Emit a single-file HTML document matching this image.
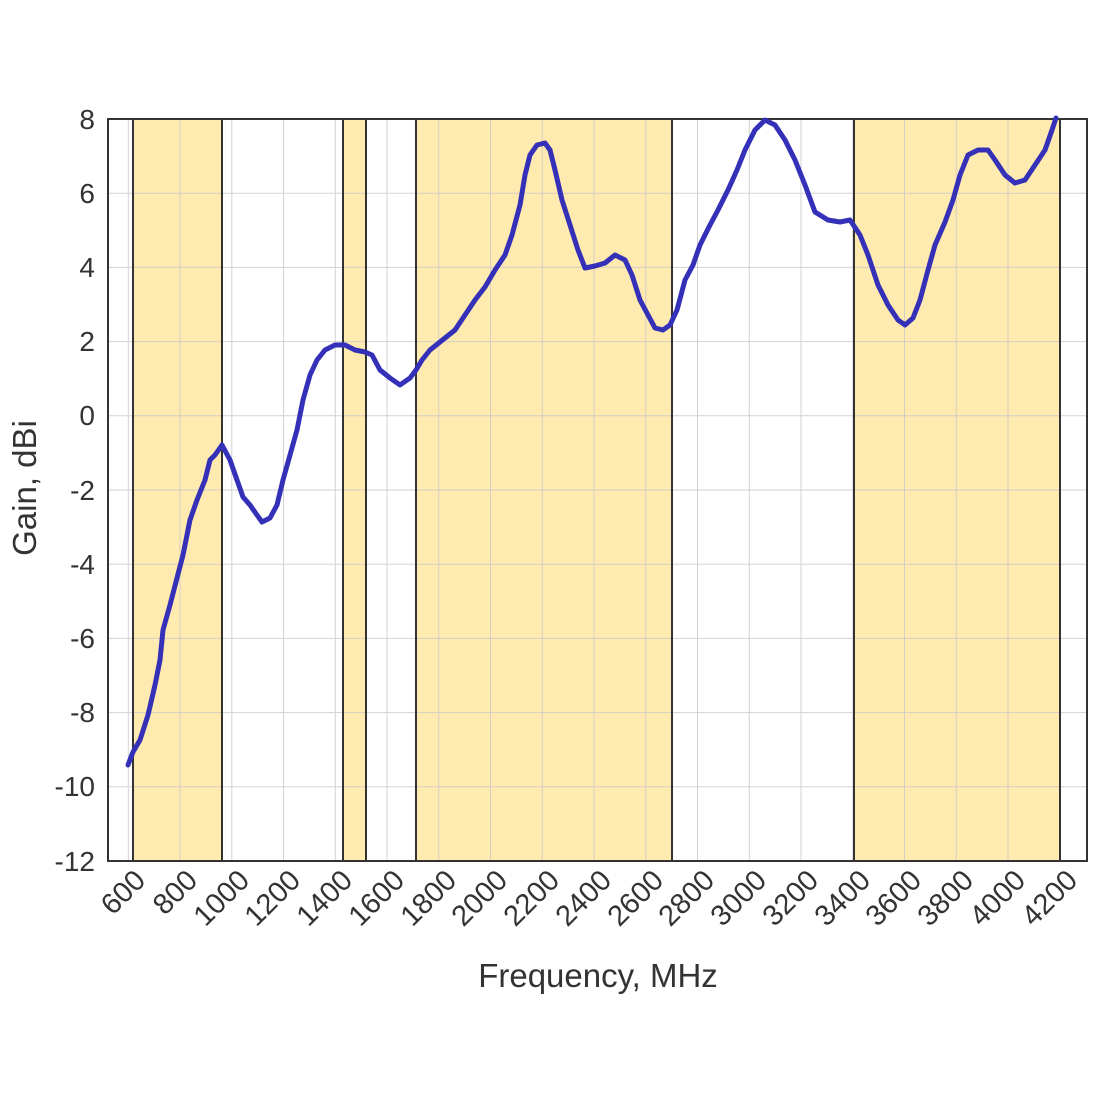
<!DOCTYPE html><html><head><style>body{margin:0;background:#fff}</style></head><body>
<svg width="1100" height="1100" xmlns="http://www.w3.org/2000/svg" font-family="Liberation Sans, Arial, sans-serif">
<rect width="1100" height="1100" fill="#fff"/>
<g fill="#ffeab0">
<rect x="133" y="119" width="89" height="742"/>
<rect x="343" y="119" width="23" height="742"/>
<rect x="416" y="119" width="256" height="742"/>
<rect x="854" y="119" width="206" height="742"/>
</g>
<g stroke="#c8c8c8" stroke-width="1" opacity="0.8">
<line x1="128.3" y1="119" x2="128.3" y2="861"/><line x1="180" y1="119" x2="180" y2="861"/><line x1="231.8" y1="119" x2="231.8" y2="861"/><line x1="283.5" y1="119" x2="283.5" y2="861"/><line x1="335.3" y1="119" x2="335.3" y2="861"/><line x1="387" y1="119" x2="387" y2="861"/><line x1="438.8" y1="119" x2="438.8" y2="861"/><line x1="490.5" y1="119" x2="490.5" y2="861"/><line x1="542.3" y1="119" x2="542.3" y2="861"/><line x1="594" y1="119" x2="594" y2="861"/><line x1="645.8" y1="119" x2="645.8" y2="861"/><line x1="697.5" y1="119" x2="697.5" y2="861"/><line x1="749.3" y1="119" x2="749.3" y2="861"/><line x1="801" y1="119" x2="801" y2="861"/><line x1="852.8" y1="119" x2="852.8" y2="861"/><line x1="904.5" y1="119" x2="904.5" y2="861"/><line x1="956.3" y1="119" x2="956.3" y2="861"/><line x1="1008" y1="119" x2="1008" y2="861"/><line x1="1059.8" y1="119" x2="1059.8" y2="861"/>
<line x1="108" y1="193.2" x2="1087" y2="193.2"/><line x1="108" y1="267.4" x2="1087" y2="267.4"/><line x1="108" y1="341.6" x2="1087" y2="341.6"/><line x1="108" y1="415.8" x2="1087" y2="415.8"/><line x1="108" y1="490" x2="1087" y2="490"/><line x1="108" y1="564.2" x2="1087" y2="564.2"/><line x1="108" y1="638.4" x2="1087" y2="638.4"/><line x1="108" y1="712.6" x2="1087" y2="712.6"/><line x1="108" y1="786.8" x2="1087" y2="786.8"/>
</g>
<g stroke="#333" stroke-width="2">
<line x1="133" y1="119" x2="133" y2="861"/><line x1="222" y1="119" x2="222" y2="861"/>
<line x1="343" y1="119" x2="343" y2="861"/><line x1="366" y1="119" x2="366" y2="861"/>
<line x1="416" y1="119" x2="416" y2="861"/><line x1="672" y1="119" x2="672" y2="861"/>
<line x1="854" y1="119" x2="854" y2="861"/><line x1="1060" y1="119" x2="1060" y2="861"/>
</g>
<rect x="108" y="119" width="979" height="742" fill="none" stroke="#333" stroke-width="2"/>
<polyline fill="none" stroke="#3530b8" stroke-width="5" stroke-linejoin="round" stroke-linecap="round" points="128,765 133,752 140,740 148,715 155,685 160,660 163,630 170,605 177,578 183,555 190,520 197,500 205,480 210,460 215,455 222,445 230,460 237,480 243,497 250,505 257,515 262,522 270,518 277,505 283,480 290,455 297,430 303,400 310,375 317,360 325,350 335,345 345,345 355,350 365,352 372,355 380,370 390,378 400,385 410,378 416,370 422,360 430,350 440,342 455,330 465,315 475,300 485,287 495,270 505,255 512,235 520,205 525,175 530,155 537,145 545,143 550,150 555,170 562,200 570,225 578,250 585,268 595,266 605,263 615,255 625,260 632,275 640,300 648,315 655,328 663,330 670,325 677,310 685,280 693,265 700,245 710,225 718,210 728,190 737,170 745,150 755,130 765,120 775,125 785,140 795,160 805,185 815,212 828,220 840,222 850,220 860,235 868,255 878,285 888,305 898,320 905,325 913,318 920,300 928,270 935,245 945,222 953,200 960,175 968,155 978,150 988,150 995,160 1005,175 1015,183 1025,180 1035,165 1045,150 1052,130 1056,118"/>
<g font-size="28" fill="#333" text-anchor="end">
<text x="95" y="129">8</text><text x="95" y="203">6</text><text x="95" y="277">4</text><text x="95" y="351">2</text><text x="95" y="425">0</text><text x="95" y="500">-2</text><text x="95" y="574">-4</text><text x="95" y="648">-6</text><text x="95" y="722">-8</text><text x="95" y="796">-10</text><text x="95" y="871">-12</text>
</g>
<g font-size="29" fill="#333" text-anchor="end">
<text transform="translate(147,882) rotate(-45)">600</text>
<text transform="translate(199,882) rotate(-45)">800</text>
<text transform="translate(251,882) rotate(-45)">1000</text>
<text transform="translate(302,882) rotate(-45)">1200</text>
<text transform="translate(354,882) rotate(-45)">1400</text>
<text transform="translate(406,882) rotate(-45)">1600</text>
<text transform="translate(458,882) rotate(-45)">1800</text>
<text transform="translate(509,882) rotate(-45)">2000</text>
<text transform="translate(561,882) rotate(-45)">2200</text>
<text transform="translate(613,882) rotate(-45)">2400</text>
<text transform="translate(665,882) rotate(-45)">2600</text>
<text transform="translate(716,882) rotate(-45)">2800</text>
<text transform="translate(768,882) rotate(-45)">3000</text>
<text transform="translate(820,882) rotate(-45)">3200</text>
<text transform="translate(872,882) rotate(-45)">3400</text>
<text transform="translate(923,882) rotate(-45)">3600</text>
<text transform="translate(975,882) rotate(-45)">3800</text>
<text transform="translate(1027,882) rotate(-45)">4000</text>
<text transform="translate(1079,882) rotate(-45)">4200</text>
</g>
<text x="598" y="987" font-size="33" fill="#333" text-anchor="middle">Frequency, MHz</text>
<text transform="translate(36,488) rotate(-90)" font-size="33" fill="#333" text-anchor="middle">Gain, dBi</text>
</svg>
</body></html>
